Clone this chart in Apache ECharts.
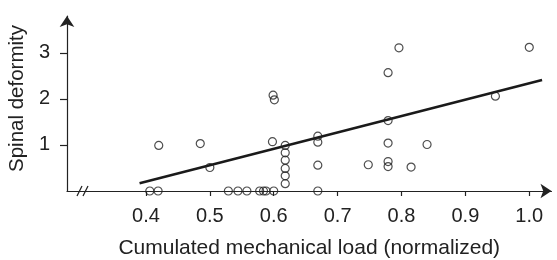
<!DOCTYPE html>
<html>
<head>
<meta charset="utf-8">
<script src="https://cdn.jsdelivr.net/npm/echarts@6/dist/echarts.min.js"></script>
<style>
  html, body { margin: 0; padding: 0; background: #fff; }
  #chart { width: 557px; height: 260px; }
</style>
</head>
<body>
<div id="chart"></div>
<script type="text/javascript">

// measured points: cumulated load (x) vs spinal deformity (y)
var loadX = [
  0.406, 0.419, 0.420, 0.485, 0.500,
  0.529, 0.544, 0.558, 0.578, 0.584, 0.588, 0.600,
  0.599, 0.601, 0.598,
  0.618, 0.618, 0.618, 0.618, 0.618, 0.618,
  0.669, 0.669, 0.669, 0.669,
  0.748,
  0.779, 0.779, 0.779, 0.779, 0.779,
  0.796, 0.815, 0.840, 0.947, 1.000
];
var deformY = [
  0, 0, 0.99, 1.03, 0.51,
  0, 0, 0, 0, 0, 0, 0,
  2.08, 1.98, 1.07,
  0.99, 0.83, 0.67, 0.49, 0.33, 0.16,
  1.19, 1.06, 0.56, 0,
  0.57,
  2.57, 1.53, 1.04, 0.64, 0.53,
  3.11, 0.52, 1.01, 2.06, 3.12
];

// regression line end points
var fitX = [0.39, 1.02];
var fitY = [0.17, 2.41];

var xTicks = [0.4, 0.5, 0.6, 0.7, 0.8, 0.9, 1.0];
var yTicks = [1, 2, 3];

var ink = '#222';
var font = 'Liberation Sans, Arial, Helvetica, sans-serif';

var points = [];
for (var i = 0; i < loadX.length; i++) {
  points.push([loadX[i], deformY[i]]);
}
var fitLine = [];
for (var j = 0; j < fitX.length; j++) {
  fitLine.push([fitX[j], fitY[j]]);
}

var chart = echarts.init(document.getElementById('chart'));

var option = {
  animation: false,
  backgroundColor: '#fff',
  grid: { left: 67, right: 5.5, top: 16, bottom: 69, outerBoundsMode: 'none', containLabel: false },
  xAxis: {
    type: 'value',
    min: 0.2764,
    max: 1.0348,
    name: 'Cumulated mechanical load (normalized)',
    nameLocation: 'middle',
    nameGap: 47,
    nameTextStyle: { color: ink, fontSize: 21, fontFamily: font },
    splitLine: { show: false },
    axisLine: {
      lineStyle: { color: ink, width: 1.2 },
      symbol: ['none', 'arrow'],
      symbolSize: [11, 11]
    },
    axisTick: {
      show: true, length: 5, customValues: xTicks,
      lineStyle: { color: ink, width: 1.2 }
    },
    axisLabel: {
      customValues: xTicks, margin: 15,
      color: ink, fontSize: 20, fontFamily: font,
      formatter: function (v) { return v.toFixed(1); }
    }
  },
  yAxis: {
    type: 'value',
    min: 0,
    max: 3.80,
    name: 'Spinal deformity',
    nameLocation: 'middle',
    nameGap: 39,
    nameTextStyle: { color: ink, fontSize: 20.5, fontFamily: font, padding: [0, 0, 0, 10] },
    splitLine: { show: false },
    axisLine: {
      lineStyle: { color: ink, width: 1.2 },
      symbol: ['none', 'arrow'],
      symbolSize: [11, 11]
    },
    axisTick: {
      show: true, length: 7, customValues: yTicks,
      lineStyle: { color: ink, width: 1.2 }
    },
    axisLabel: {
      customValues: yTicks, margin: 17,
      color: ink, fontSize: 20, fontFamily: font
    }
  },
  series: [
    {
      name: 'fit',
      type: 'line',
      data: fitLine,
      symbol: 'none',
      lineStyle: { color: '#1a1a1a', width: 2.6 },
      z: 2
    },
    {
      name: 'samples',
      type: 'scatter',
      data: points,
      symbol: 'circle',
      symbolSize: 8,
      itemStyle: { color: 'rgba(0,0,0,0)', borderColor: ink, borderWidth: 1.2 },
      z: 3
    }
  ]
};

chart.setOption(option);

// axis break "//" just right of the y axis
var bx = chart.convertToPixel({ xAxisIndex: 0 }, 0.2764) + 13;
var by = chart.convertToPixel({ yAxisIndex: 0 }, 0);
chart.setOption({
  graphic: [
    { type: 'line', shape: { x1: bx - 3, y1: by + 5, x2: bx + 2, y2: by - 5 }, style: { stroke: ink, lineWidth: 1.2 } },
    { type: 'line', shape: { x1: bx + 3, y1: by + 5, x2: bx + 8, y2: by - 5 }, style: { stroke: ink, lineWidth: 1.2 } }
  ]
});

</script>
</body>
</html>
